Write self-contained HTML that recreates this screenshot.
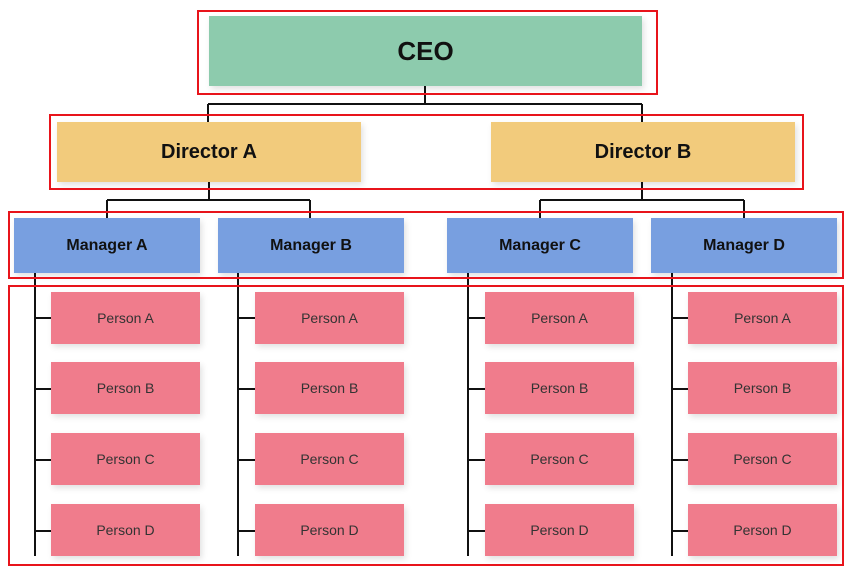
<!DOCTYPE html>
<html><head><style>
body{margin:0;width:850px;height:574px;background:#fff;position:relative;overflow:hidden;font-family:"Liberation Sans",Arial,sans-serif}
.b{position:absolute;display:flex;align-items:center;justify-content:center;box-shadow:2px 3px 6px rgba(0,0,0,0.12);color:#111}
.r{position:absolute;border:2px solid #e8141b;box-sizing:border-box}
.p{background:#f07c8c;font-size:14px;color:#333;width:149px;height:52px}
.m{background:#789fe0;font-weight:bold;font-size:16px;width:186px;height:55px}
.d{background:#f2cb7c;font-weight:bold;font-size:20px;width:304px;height:60px;top:122px}
</style></head><body>
<svg width="850" height="574" style="position:absolute;left:0;top:0" stroke="#111" stroke-width="2" fill="none">
<path d="M425 86V104M208 104H642M208 104V122M642 104V122"/>
<path d="M209 182V200M107 200H310M107 200V218M310 200V218"/>
<path d="M642 182V200M540 200H744M540 200V218M744 200V218"/>
<path d="M35 273V556M238 273V556M468 273V556M672 273V556"/>
<path d="M35 318H51M35 389H51M35 460H51M35 531H51"/>
<path d="M238 318H255M238 389H255M238 460H255M238 531H255"/>
<path d="M468 318H485M468 389H485M468 460H485M468 531H485"/>
<path d="M672 318H688M672 389H688M672 460H688M672 531H688"/>
</svg>
<div class="b" style="left:209px;top:16px;width:433px;height:70px;background:#8dcbad;font-weight:bold;font-size:26px">CEO</div>
<div class="b d" style="left:57px">Director A</div>
<div class="b d" style="left:491px">Director B</div>
<div class="b m" style="left:14px;top:218px">Manager A</div>
<div class="b m" style="left:218px;top:218px">Manager B</div>
<div class="b m" style="left:447px;top:218px">Manager C</div>
<div class="b m" style="left:651px;top:218px">Manager D</div>

<div class="b p" style="left:51px;top:292px">Person A</div>
<div class="b p" style="left:51px;top:362px">Person B</div>
<div class="b p" style="left:51px;top:433px">Person C</div>
<div class="b p" style="left:51px;top:504px">Person D</div>
<div class="b p" style="left:255px;top:292px">Person A</div>
<div class="b p" style="left:255px;top:362px">Person B</div>
<div class="b p" style="left:255px;top:433px">Person C</div>
<div class="b p" style="left:255px;top:504px">Person D</div>
<div class="b p" style="left:485px;top:292px">Person A</div>
<div class="b p" style="left:485px;top:362px">Person B</div>
<div class="b p" style="left:485px;top:433px">Person C</div>
<div class="b p" style="left:485px;top:504px">Person D</div>
<div class="b p" style="left:688px;top:292px">Person A</div>
<div class="b p" style="left:688px;top:362px">Person B</div>
<div class="b p" style="left:688px;top:433px">Person C</div>
<div class="b p" style="left:688px;top:504px">Person D</div>

<div class="r" style="left:197px;top:10px;width:461px;height:85px"></div>
<div class="r" style="left:49px;top:114px;width:755px;height:76px"></div>
<div class="r" style="left:8px;top:211px;width:836px;height:68px"></div>
<div class="r" style="left:8px;top:285px;width:836px;height:281px"></div>
</body></html>
